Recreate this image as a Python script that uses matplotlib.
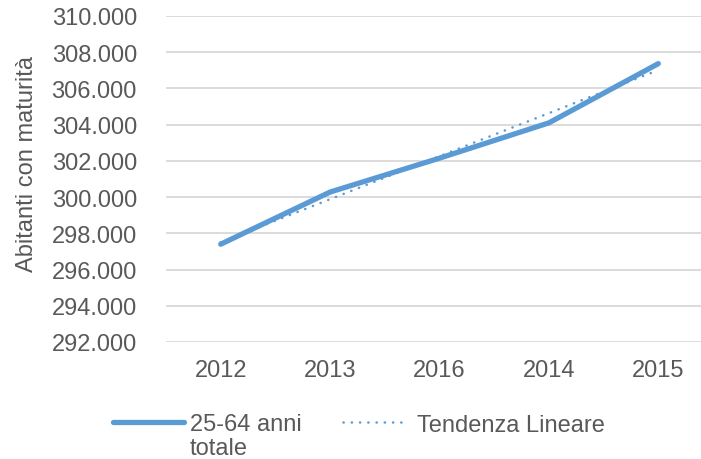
import matplotlib
matplotlib.use("Agg")
import matplotlib.pyplot as plt
from matplotlib.lines import Line2D
import numpy as np

categories = ["2012", "2013", "2016", "2014", "2015"]
values = [297.40, 300.28, 302.15, 304.10, 307.37]
y_ticks = [292, 294, 296, 298, 300, 302, 304, 306, 308, 310]
y_tick_labels = ["292.000", "294.000", "296.000", "298.000", "300.000",
                 "302.000", "304.000", "306.000", "308.000", "310.000"]
series_label = "25-64 anni\ntotale"
trend_label = "Tendenza Lineare"
y_label = "Abitanti con maturità"

plt.rcParams['font.family'] = ['Liberation Sans', 'DejaVu Sans']
color = "#5B9BD5"
text_color = "#595959"
FS = 17

fig = plt.figure(figsize=(7.01, 4.60), dpi=100)
W, H = 701, 460
left, right = 166, 713
top, bottom = 17, 343
ax = fig.add_axes([left / W, 1 - bottom / H, (right - left) / W, (bottom - top) / H])

x = np.arange(len(categories))
main_style = dict(color=color, lw=3.8, solid_capstyle='round', solid_joinstyle='round')
trend_style = dict(color=color, lw=1.8, linestyle=(0, (0.1, 3.2)), dash_capstyle='round')
ax.plot(x, values, zorder=3, **main_style)
coef = np.polyfit(x, values, 1)
trend = np.polyval(coef, x)
ax.plot(x, trend, zorder=4, **trend_style)

ax.set_xlim(-0.5, len(categories) - 0.5)
ax.set_ylim(292, 310)
ax.set_yticks(y_ticks)
ax.set_yticklabels(y_tick_labels)
ax.set_xticks(x)
ax.set_xticklabels(categories)
ax.yaxis.grid(True, color="#D9D9D9", lw=1.3)
ax.set_axisbelow(True)
for s in ax.spines.values():
    s.set_visible(False)
ax.tick_params(axis='both', length=0, labelsize=FS, colors=text_color)
ax.tick_params(axis='y', pad=21)
ax.tick_params(axis='x', pad=12)


def fx(px):
    return px / W


def fy(py):
    return 1 - py / H


ax.set_ylabel(y_label, fontsize=FS, color=text_color)
ax.yaxis.set_label_coords(fx(38), fy(164), transform=fig.transFigure)

# manual legend (handle aligned with first line of the label, as in the reference)
fig.add_artist(Line2D([fx(113), fx(184)], [fy(423), fy(423)], transform=fig.transFigure,
                      **main_style))
fig.text(fx(190), fy(455), series_label, fontsize=FS, color=text_color, va='baseline',
         ha='left', linespacing=1.1)
fig.add_artist(Line2D([fx(343), fx(405)], [fy(423), fy(423)], transform=fig.transFigure,
                      **trend_style))
fig.text(fx(417), fy(432), trend_label, fontsize=FS, color=text_color, va='baseline',
         ha='left')

fig.savefig("out.png", dpi=100)
